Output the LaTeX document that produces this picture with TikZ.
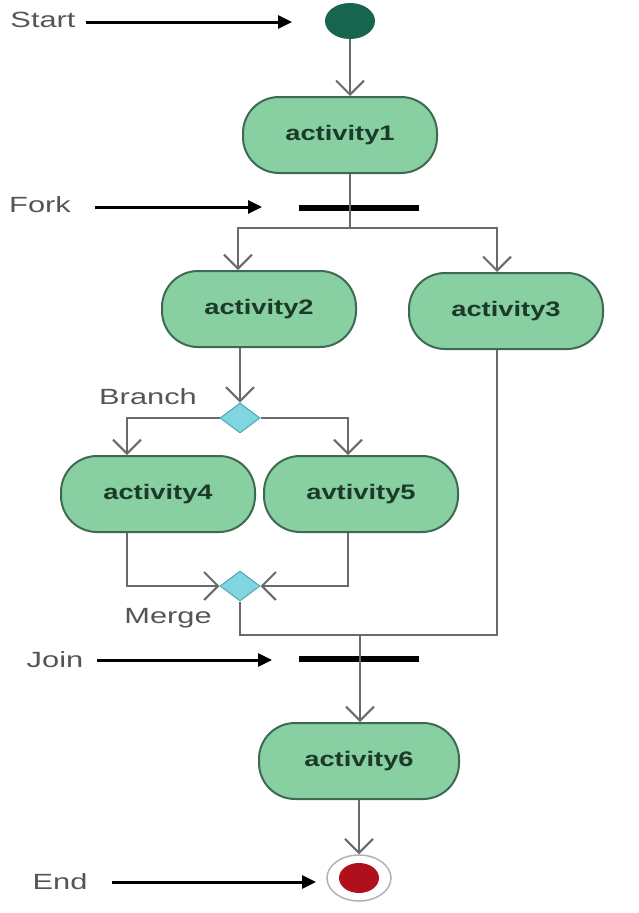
\documentclass[tikz,border=0pt]{standalone}
\usepackage{fontspec}
\usetikzlibrary{shapes.geometric,arrows.meta,positioning}
\newfontfamily\actfont[FakeStretch=1.3]{Liberation Sans}
\newfontfamily\lblfont[FakeStretch=1.4]{Liberation Sans}
\definecolor{actfill}{HTML}{88CFA2}
\definecolor{actline}{HTML}{3F6A52}
\definecolor{acttext}{HTML}{1C3A28}
\definecolor{flowgray}{HTML}{6A6A6A}
\definecolor{startgreen}{HTML}{17654E}
\definecolor{endred}{HTML}{B0101C}
\definecolor{decfill}{HTML}{80D6E0}
\definecolor{decline}{HTML}{4AA6B4}
\definecolor{lblgray}{HTML}{555555}
\begin{document}
\begin{tikzpicture}[x=1pt,y=-1pt,
	activity/.style={draw=actline,line width=2pt,fill=actfill,rounded corners=36pt,
		minimum width=194pt,minimum height=76pt,text=acttext,
		font=\actfont\bfseries\fontsize{21}{24}\selectfont},
	decision/.style={shape=diamond,draw=decline,line width=1pt,fill=decfill,
		minimum width=40pt,minimum height=30pt,inner sep=0pt},
	syncbar/.style={fill=black,minimum width=120pt,minimum height=6pt,inner sep=0pt},
	lbl/.style={text=lblgray,font=\lblfont\fontsize{22}{24}\selectfont,inner sep=0pt},
	flowline/.style={draw=flowgray,line width=2.2pt},
	flow/.style={flowline,-{Straight Barb[length=14pt,width=28pt,line width=2pt]}},
	pointer/.style={draw=black,line width=3pt,-{Triangle[length=14pt,width=13pt]}}]
	\useasboundingbox (0,0) rectangle (639,913);
	\node[shape=ellipse,fill=startgreen,minimum width=50pt,minimum height=36pt,inner sep=0pt] (start) at (350,21) {};
	\node[activity] (act1) at (340,135) {activity1};
	\node[syncbar] (fork) at (359,208) {};
	\node[activity] (act2) at (259,309) {activity2};
	\node[activity] (act3) at (506,311) {activity3};
	\node[decision] (branch) at (240,418) {};
	\node[activity] (act4) at (158,494) {activity4};
	\node[activity] (act5) at (361,494) {avtivity5};
	\node[decision] (merge) at (240,586) {};
	\node[syncbar] (join) at (359,659) {};
	\node[activity,minimum width=200pt] (act6) at (359,761) {activity6};
	\node[shape=ellipse,draw=gray!60,line width=1.5pt,fill=white,minimum width=64pt,minimum height=46pt,inner sep=0pt] (endring) at (359,878) {};
	\node[shape=ellipse,fill=endred,minimum width=40pt,minimum height=30pt,inner sep=0pt] (enddot) at (endring) {};
	\coordinate (fsplit) at (350,228);
	\coordinate (jmeet) at (360,635);
	\draw[flow] (start.south) -- (start.south |- act1.north);
	\draw[flowline] (start.south |- act1.south) -- (fsplit);
	\draw[flow] (fsplit) -| ([xshift=-21pt]act2.north);
	\draw[flow] (fsplit) -| ([xshift=-9pt]act3.north);
	\draw[flow] (act2.south -| branch) -- (branch.north);
	\draw[flow] (branch.west) -| ([xshift=-31pt]act4.north);
	\draw[flow] (branch.east) -| ([xshift=-13pt]act5.north);
	\draw[flow] ([xshift=-31pt]act4.south) |- (merge.west);
	\draw[flow] ([xshift=-13pt]act5.south) |- (merge.east);
	\draw[flowline] (merge.south) |- (jmeet);
	\draw[flowline] ([xshift=-9pt]act3.south) |- (jmeet);
	\draw[flow] (jmeet) -- (jmeet |- act6.north);
	\draw[flow] (act6.south) -- (endring.north);
	% labels with pointers
	\node[lbl] (lstart) at (43,20) {Start};
	\node[lbl] (lfork) at (40,205) {Fork};
	\node[lbl] (lbranch) at (148,397) {Branch};
	\node[lbl] (lmerge) at (168,618) {Merge};
	\node[lbl] (ljoin) at (55,660) {Join};
	\node[lbl] (lend) at (60,882) {End};
	\coordinate (pstart) at (292,22);
	\coordinate (pfork) at (262,207);
	\coordinate (pjoin) at (272,660);
	\coordinate (pend) at (316,882);
	\draw[pointer,shorten <=10pt] (lstart.east |- pstart) -- (pstart);
	\draw[pointer,shorten <=24pt] (lfork.east |- pfork) -- (pfork);
	\draw[pointer,shorten <=14pt] (ljoin.east |- pjoin) -- (pjoin);
	\draw[pointer,shorten <=24pt] (lend.east |- pend) -- (pend);
\end{tikzpicture}
\end{document}
